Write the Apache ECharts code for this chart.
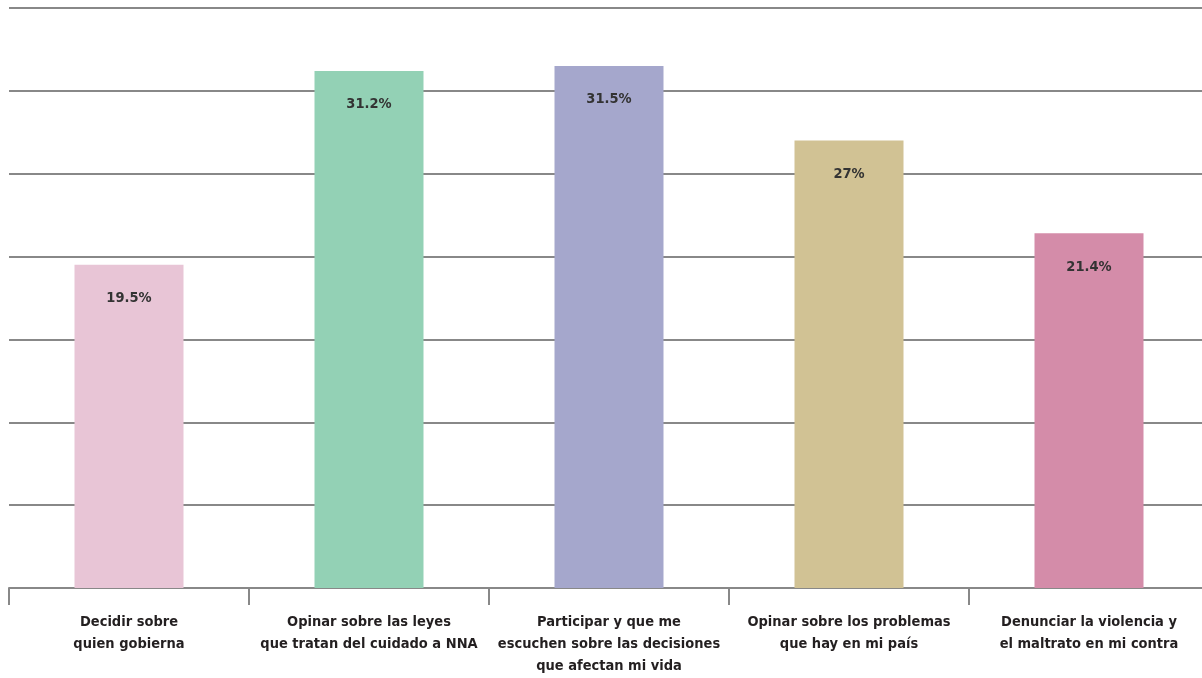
<!DOCTYPE html>
<html>
<head>
<meta charset="utf-8">
<script src="https://cdn.jsdelivr.net/npm/echarts@6/dist/echarts.min.js"></script>
<style>
html,body{margin:0;padding:0;background:#fff;overflow:hidden;width:1202px;height:678px;}
#chart{width:1209px;height:678px;}
</style>
</head>
<body>
<div id="chart"></div>
<script>
const categories = [
  "Decidir sobre\nquien gobierna",
  "Opinar sobre las leyes\nque tratan del cuidado a NNA",
  "Participar y que me\nescuchen sobre las decisiones\nque afectan mi vida",
  "Opinar sobre los problemas\nque hay en mi país",
  "Denunciar la violencia y\nel maltrato en mi contra"
];
const values = [19.5, 31.2, 31.5, 27, 21.4];
const barColors = ["#E8C5D6", "#93D1B5", "#A5A7CC", "#D1C294", "#D48CA9"];

const font = "'DejaVu Sans Condensed', 'Liberation Sans Narrow', sans-serif";
const chart = echarts.init(document.getElementById('chart'));
chart.setOption({
  animation: false,
  grid: {left: 9, right: 0, top: 8, bottom: 90, containLabel: false, outerBoundsMode: 'none'},
  xAxis: {
    type: 'category',
    data: categories,
    axisLine: {lineStyle: {color: '#888', width: 2}},
    axisTick: {show: true, length: 17, lineStyle: {color: '#888', width: 2}},
    axisLabel: {
      margin: 23,
      color: '#231F20',
      fontFamily: font,
      fontWeight: 'bold',
      fontSize: 14.5,
      lineHeight: 22,
      interval: 0
    }
  },
  yAxis: {
    type: 'value',
    min: 0, max: 35, interval: 5,
    axisLabel: {show: false},
    axisLine: {show: false},
    axisTick: {show: false},
    splitLine: {lineStyle: {color: '#888', width: 2}}
  },
  series: [{
    type: 'bar',
    barWidth: 109,
    data: values.map((v, i) => ({value: v, itemStyle: {color: barColors[i]}})),
    label: {
      show: true,
      position: 'insideTop',
      distance: 26,
      formatter: p => p.value + '%',
      color: '#333',
      fontFamily: font,
      fontWeight: 'bold',
      fontSize: 14.5
    }
  }]
});
</script>
</body>
</html>
